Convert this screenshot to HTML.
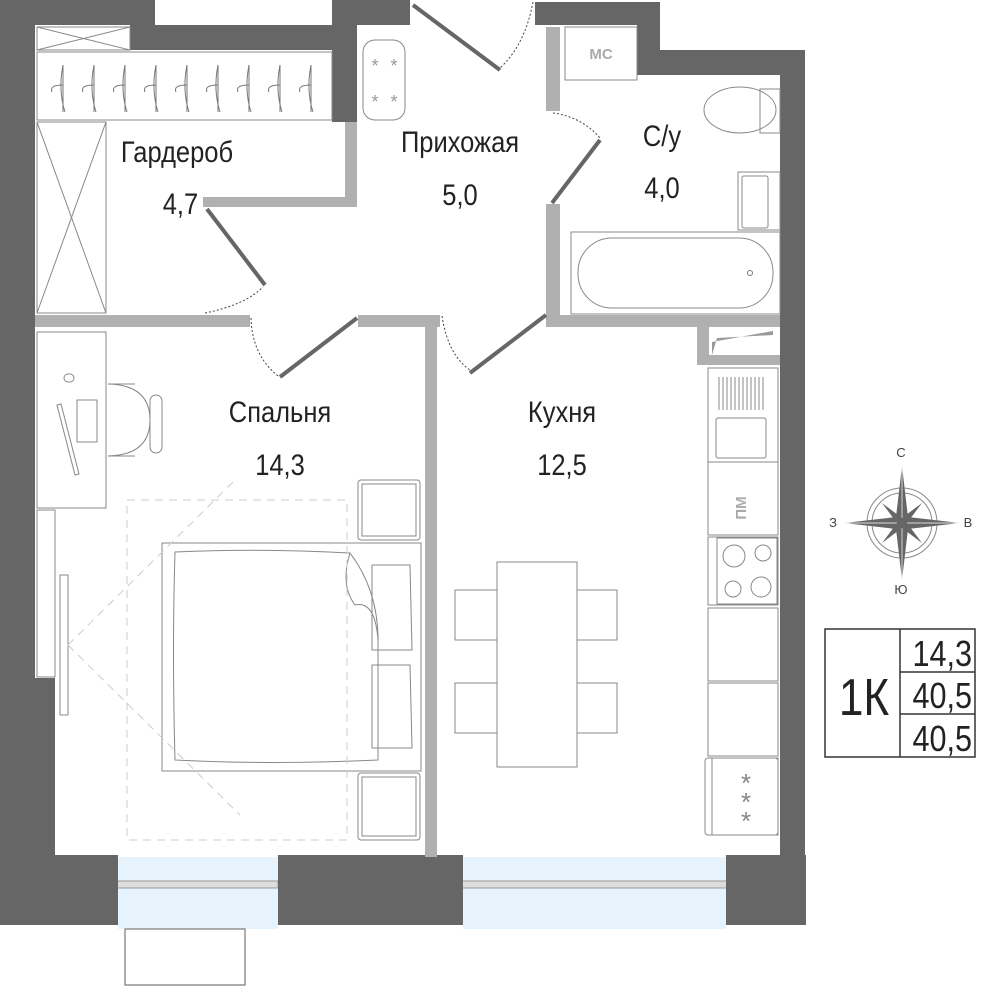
<!DOCTYPE html>
<html><head><meta charset="utf-8"><style>
body{margin:0;background:#fff}
svg{display:block}
text{font-family:"Liberation Sans",sans-serif}
</style></head><body>
<svg width="1000" height="1000" viewBox="0 0 1000 1000" xmlns="http://www.w3.org/2000/svg">
<rect x="118" y="857" width="160" height="72" fill="#e6f3fc"/>
<rect x="463" y="857" width="263" height="72" fill="#e6f3fc"/>
<rect x="116" y="881" width="162" height="7" fill="#ddd" stroke="#999"/>
<rect x="461" y="881" width="267" height="7" fill="#ddd" stroke="#999"/>
<rect x="125" y="929" width="120" height="56" fill="none" stroke="#777" stroke-width="1.2"/>
<g fill="#666">
<rect x="0" y="0" width="35" height="925"/>
<rect x="0" y="678" width="55" height="180"/>
<rect x="0" y="855" width="118" height="70"/>
<rect x="278" y="855" width="185" height="70"/>
<rect x="726" y="855" width="80" height="70"/>
<rect x="35" y="0" width="120" height="25"/>
<rect x="130" y="25" width="215" height="25"/>
<rect x="332" y="0" width="25" height="122"/>
<rect x="332" y="0" width="78" height="25"/>
<rect x="535" y="2" width="125" height="23"/>
<rect x="637" y="2" width="23" height="73"/>
<rect x="637" y="50" width="168" height="25"/>
<rect x="780" y="50" width="25" height="810"/>
</g>
<g fill="#b0b0b0">
<rect x="345" y="122" width="12" height="85"/>
<rect x="203" y="197" width="154" height="10"/>
<rect x="35" y="315" width="215" height="12"/>
<rect x="358" y="315" width="82" height="12"/>
<rect x="425" y="315" width="12" height="542"/>
<rect x="546" y="27" width="14" height="84"/>
<rect x="546" y="204" width="14" height="123"/>
<rect x="546" y="315" width="234" height="12"/>
<rect x="697" y="327" width="12" height="33"/>
<rect x="697" y="355" width="83" height="10"/>
</g>
<path d="M712 342 L773 331 L773 335 L717 338 L712 355Z" fill="#999"/>
<g stroke="#666" stroke-width="4">
<line x1="413" y1="5" x2="500" y2="70"/>
<line x1="207" y1="209" x2="265" y2="285"/>
<line x1="600" y1="140" x2="552" y2="203"/>
<line x1="280" y1="377" x2="357" y2="318"/>
<line x1="546" y1="315" x2="470" y2="373"/>
</g>
<g fill="none" stroke="#444" stroke-dasharray="2,2" stroke-width="1">
<path d="M205 313 Q245 305 263 287"/>
<path d="M251 318 Q252 355 278 376"/>
<path d="M442 316 Q448 355 470 370"/>
<path d="M533 2 Q525 45 500 68"/>
<path d="M553 113 Q582 117 600 138"/>
</g>
<g fill="none" stroke="#888" stroke-width="1">
<rect x="37" y="27" width="93" height="23"/><path d="M37 27 L130 50 M130 27 L37 50"/>
<rect x="37" y="52" width="295" height="68"/>
<rect x="37" y="122" width="69" height="191"/><path d="M37 122 L106 313 M106 122 L37 313"/>
<rect x="363" y="40" width="42" height="80" rx="12"/>
<rect x="565" y="27" width="72" height="53"/>
</g>
<g fill="none" stroke="#777" stroke-width="1">
<path d="M63 65 Q58 90 65 112 M63 65 L63 112 M63 85 Q49 85 52 92"/>
<path d="M94 65 Q89 90 96 112 M94 65 L94 112 M94 85 Q80 85 83 92"/>
<path d="M125 65 Q120 90 127 112 M125 65 L125 112 M125 85 Q111 85 114 92"/>
<path d="M156 65 Q151 90 158 112 M156 65 L156 112 M156 85 Q142 85 145 92"/>
<path d="M187 65 Q182 90 189 112 M187 65 L187 112 M187 85 Q173 85 176 92"/>
<path d="M218 65 Q213 90 220 112 M218 65 L218 112 M218 85 Q204 85 207 92"/>
<path d="M249 65 Q244 90 251 112 M249 65 L249 112 M249 85 Q235 85 238 92"/>
<path d="M280 65 Q275 90 282 112 M280 65 L280 112 M280 85 Q266 85 269 92"/>
<path d="M311 65 Q306 90 313 112 M311 65 L311 112 M311 85 Q297 85 300 92"/>
</g>
<g font-size="18" fill="#999" text-anchor="middle"><text x="375" y="72">*</text><text x="394" y="72">*</text><text x="375" y="108">*</text><text x="394" y="108">*</text></g>
<text x="601" y="59" font-size="15" font-weight="bold" fill="#aaa" text-anchor="middle">МС</text>
<g fill="none" stroke="#888" stroke-width="1">
<ellipse cx="740" cy="110" rx="36" ry="23"/>
<rect x="760" y="89" width="20" height="44"/>
<rect x="738" y="172" width="42" height="58"/><rect x="742" y="176" width="26" height="52" rx="2"/>
<rect x="571" y="232" width="209" height="82"/>
<rect x="578" y="238" width="195" height="70" rx="34"/>
</g>
<circle cx="750" cy="273" r="2.5" fill="none" stroke="#777"/>
<g fill="none" stroke="#888" stroke-width="1">
<rect x="37" y="332" width="69" height="176"/>
<rect x="37" y="510" width="18" height="167"/>
<rect x="64" y="374" width="10" height="8" rx="4"/>
<rect x="77" y="400" width="20" height="42"/>
<path d="M57 405 L75 475 L79 474 L61 404Z"/>
<path d="M108 384 L135 384 M108 456 L135 456 M108 384 Q150 385 150 420 Q150 455 108 456"/>
<rect x="150" y="395" width="12" height="58" rx="6"/>
<path d="M60 575 L68 575 L68 715 L60 715Z"/>
<rect x="162" y="543" width="259" height="228"/>
<path d="M175 552 Q260 548 350 553 Q378 590 378 640 L378 760 Q270 765 175 760 Q172 650 175 552Z"/>
<path d="M350 553 Q340 585 355 605 Q375 600 378 640"/>
<path d="M372 565 L410 565 L412 650 L372 650Z"/>
<path d="M372 665 L410 665 L412 748 L372 748Z"/>
<rect x="358" y="480" width="62" height="60" rx="3"/><rect x="362" y="484" width="54" height="52"/>
<rect x="358" y="773" width="62" height="67" rx="3"/><rect x="362" y="777" width="54" height="59"/>
</g>
<g fill="none" stroke="#ccc" stroke-dasharray="8,6" stroke-width="1">
<rect x="127" y="500" width="220" height="340"/>
<path d="M68 645 L233 482 M68 645 L240 815"/>
</g>
<g fill="none" stroke="#888" stroke-width="1">
<rect x="497" y="562" width="80" height="205"/>
<rect x="455" y="590" width="42" height="50"/><rect x="455" y="683" width="42" height="50"/>
<rect x="577" y="590" width="40" height="50"/><rect x="577" y="683" width="40" height="50"/>
<rect x="708" y="368" width="70" height="94"/>
<rect x="716" y="418" width="50" height="40" rx="2"/>
<rect x="708" y="462" width="70" height="73"/>
<rect x="708" y="537" width="70" height="68"/><rect x="717" y="538" width="60" height="66"/>
<circle cx="734" cy="556" r="11"/><circle cx="763" cy="553" r="8"/>
<circle cx="733" cy="589" r="8"/><circle cx="761" cy="587" r="10"/>
<rect x="708" y="608" width="70" height="73"/>
<rect x="708" y="683" width="70" height="73"/>
<rect x="705" y="758" width="73" height="77" rx="3"/><rect x="712" y="758" width="66" height="77"/>
</g>
<g stroke="#888" stroke-width="1">
<path d="M719 377 V410 M723 377 V410 M727 377 V410 M731 377 V410 M735 377 V410 M739 377 V410 M743 377 V410 M747 377 V410 M751 377 V410 M755 377 V410 M759 377 V410 M763 377 V410"/>
</g>
<text x="746" y="508" font-size="15" font-weight="bold" fill="#aaa" text-anchor="middle" transform="rotate(-90 746 508)">ПМ</text>
<g font-size="26" fill="#888" text-anchor="middle"><text x="746" y="792">*</text><text x="746" y="811">*</text><text x="746" y="830">*</text></g>
<g font-size="30" fill="#222" text-anchor="middle">
<g transform="translate(177,0) scale(0.85,1)"><text x="0" y="162">Гардероб</text><text x="4" y="214">4,7</text></g>
<g transform="translate(460,0) scale(0.85,1)"><text x="0" y="152">Прихожая</text><text x="0" y="205">5,0</text></g>
<g transform="translate(662,0) scale(0.85,1)"><text x="0" y="146">С/у</text><text x="0" y="198">4,0</text></g>
<g transform="translate(280,0) scale(0.85,1)"><text x="0" y="422">Спальня</text><text x="0" y="475">14,3</text></g>
<g transform="translate(562,0) scale(0.85,1)"><text x="0" y="422">Кухня</text><text x="0" y="475">12,5</text></g>
</g>
<g transform="translate(902,523)">
<circle r="35" fill="none" stroke="#888"/><circle r="30" fill="none" stroke="#888"/>
<path d="M0 -57 L6 -6 L58 0 L6 6 L0 57 L-6 6 L-58 0 L-6 -6Z" fill="#666"/>
<path d="M0 -57 L0 57 M-58 0 L58 0" stroke="#fff" stroke-width="0.7"/>
<path d="M-20 -20 L0 -5 L20 -20 L5 0 L20 20 L0 5 L-20 20 L-5 0Z" fill="#666"/>
</g>
<g font-size="13" fill="#444" text-anchor="middle">
<text x="901" y="457">С</text><text x="901" y="594">Ю</text><text x="833" y="527">З</text><text x="968" y="527">В</text></g>
<g fill="none" stroke="#333" stroke-width="1.5">
<rect x="825" y="629" width="150" height="128"/>
<path d="M900 629 V757 M900 672 H975 M900 714 H975"/>
</g>
<g font-size="36" fill="#222" text-anchor="end">
<g transform="translate(972,0) scale(0.85,1)"><text x="0" y="666">14,3</text><text x="0" y="708">40,5</text><text x="0" y="751">40,5</text></g></g>
<g transform="translate(864,0) scale(0.85,1)"><text x="0" y="715" font-size="52" fill="#222" text-anchor="middle">1К</text></g>
</svg>
</body></html>
